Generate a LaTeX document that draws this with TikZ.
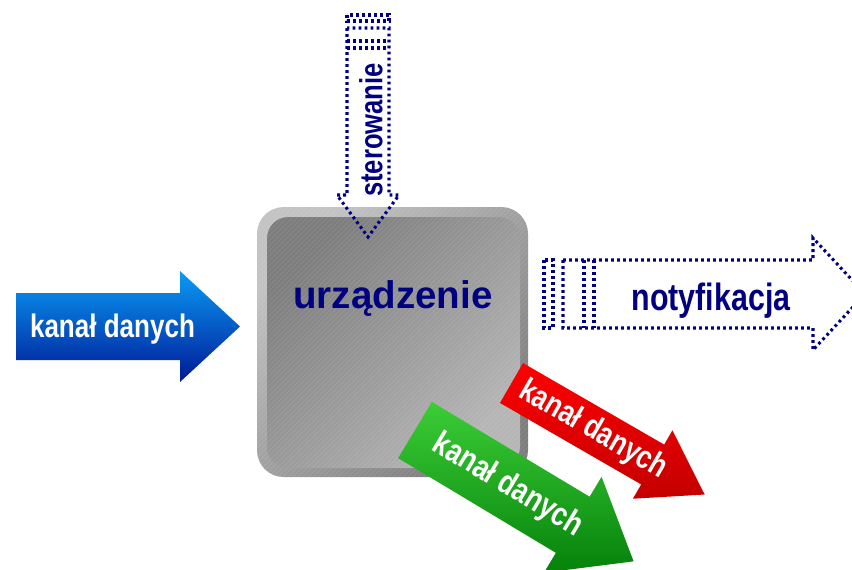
\documentclass[tikz,border=0pt]{standalone}
\usepackage{fontspec}
\setmainfont{Liberation Sans}
\newfontfamily\narrowsans{Liberation Sans}[FakeStretch=0.8]
\definecolor{navy}{RGB}{0,0,128}
\definecolor{blueTop}{RGB}{10,155,245}
\definecolor{blueBot}{RGB}{0,25,150}
\definecolor{redTop}{RGB}{255,0,0}
\definecolor{redBot}{RGB}{195,0,0}
\definecolor{greenTop}{RGB}{60,205,55}
\definecolor{greenBot}{RGB}{5,130,10}
\definecolor{frameLight}{RGB}{195,195,195}
\definecolor{frameDark}{RGB}{125,125,125}
\definecolor{faceDark}{RGB}{125,125,125}
\definecolor{faceLight}{RGB}{182,182,182}
\tikzset{
  dotline/.style={draw=navy, line width=2.3pt, dash pattern=on 2.1pt off 2.4pt},
  arrowtext/.style={font=\narrowsans\bfseries\fontsize{24.4pt}{28pt}\selectfont,
                    text=white, inner sep=0pt},
  hatch/.style={white, opacity=0.13, line width=0.45pt}
}
\begin{document}
\begin{tikzpicture}[x=0.75pt,y=-0.75pt]
\useasboundingbox (0,0) rectangle (852,569);
\clip (0,0) rectangle (852,569);

% device body: bevelled rounded square with a fine diagonal hatch
\shade[top color=frameLight, bottom color=frameDark, shading angle=45,
       rounded corners=20pt] (257,207) rectangle (528,477);
\shade[top color=faceDark, bottom color=faceLight, shading angle=45,
       rounded corners=16pt] (267,217) rectangle (520,468);
\begin{scope}
  \clip[rounded corners=20pt] (257,207) rectangle (528,477);
  \foreach \k in {0,5,...,560}
    \draw[hatch] (\k-20,480) -- (\k+255,205);
\end{scope}
\node[font=\bfseries\fontsize{28.9pt}{32pt}\selectfont, text=navy,
      anchor=base, inner sep=0pt] (device) at (393,308) {urządzenie};

% incoming data channel (blue)
\shade[top color=blueTop, bottom color=blueBot]
  (16,293) -- (180,293) -- (180,271) -- (240,326.5) -- (180,382)
  -- (180,360) -- (16,360) -- cycle;
\node[arrowtext, anchor=base] (inchan) at (112.5,337) {kanał danych};

% outgoing data channel (red)
\begin{scope}[shift={(511.5,383)}, rotate=-30]
  \shade[top color=redTop, bottom color=redBot]
    (0,-23) -- (163,-23) -- (163,-39.5) -- (223,0) -- (163,39.5)
    -- (163,23) -- (0,23) -- cycle;
  \node[arrowtext, rotate=-30] (outred) at (94,0) {kanał danych};
\end{scope}

% outgoing data channel (green)
\begin{scope}[shift={(415,430)}, rotate=-31]
  \shade[top color=greenTop, bottom color=greenBot]
    (0,-32.75) -- (184,-32.75) -- (184,-56) -- (255,0) -- (184,56)
    -- (184,32.75) -- (0,32.75) -- cycle;
  \node[arrowtext, font=\narrowsans\bfseries\fontsize{25pt}{28pt}\selectfont,
        rotate=-31] (outgreen) at (108,0) {kanał danych};
\end{scope}

% control input (dotted, striped tail)
\draw[dotline] (347,15) rectangle (389,21);
\draw[dotline] (347,28) -- (347,195) -- (337,195) -- (368,237) -- (399,195)
  -- (389,195) -- (389,28) -- cycle;
\draw[dotline] (347,41) -- (389,41);
\draw[dotline] (347,48) -- (389,48);
\node[arrowtext, text=navy, rotate=90,
      font=\narrowsans\bfseries\fontsize{24pt}{28pt}\selectfont] (steer) at (371,130) {sterowanie};

% notification output (dotted, striped tail)
\draw[dotline] (544,260) rectangle (553,328);
\draw[dotline] (563,260) -- (813,260) -- (813,238) -- (865,294) -- (813,350)
  -- (813,328) -- (563,328) -- cycle;
\draw[dotline] (584,260) -- (584,328);
\draw[dotline] (594,260) -- (594,328);
\node[arrowtext, text=navy, anchor=base,
      font=\narrowsans\bfseries\fontsize{28.5pt}{32pt}\selectfont] (notify) at (711,310) {notyfikacja};
\end{tikzpicture}
\end{document}
